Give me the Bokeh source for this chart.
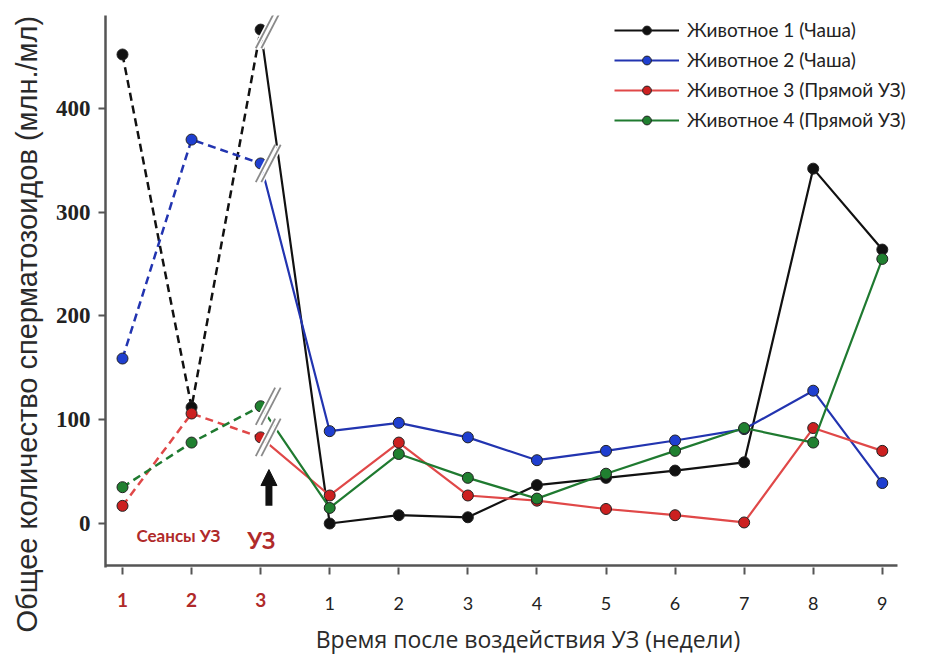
from bokeh.plotting import figure
from bokeh.models import (FixedTicker, Legend, LegendItem, Label, Arrow, NormalHead,
                          Range1d, ColumnDataSource, LinearAxis, Title)
from bokeh.embed import file_html
from bokeh.resources import INLINE

# ---------------- data ----------------
tick_labels = ["1", "2", "3", "1", "2", "3", "4", "5", "6", "7", "8", "9"]
n_sessions = 3
series_names = ["Животное 1 (Чаша)", "Животное 2 (Чаша)",
                "Животное 3 (Прямой УЗ)", "Животное 4 (Прямой УЗ)"]
animal1 = [452, 112, 476, 0, 8, 6, 37, 44, 51, 59, 342, 264]
animal2 = [159, 370, 347, 89, 97, 83, 61, 70, 80, 91, 128, 39]
animal3 = [17, 106, 83, 27, 78, 27, 22, 14, 8, 1, 92, 70]
animal4 = [35, 78, 113, 15, 67, 44, 24, 48, 70, 92, 78, 255]
y_ticks = [0, 100, 200, 300, 400]
y_title = "Общее количество сперматозоидов (млн./мл)"
x_title = "Время после воздействия УЗ  (недели)"

line_colors = ["#111111", "#2234b0", "#e04848", "#1f7a30"]
marker_colors = ["#111111", "#1f3fd0", "#cc2020", "#208030"]
series = [animal1, animal2, animal3, animal4]

positions = list(range(1, len(tick_labels) + 1))
RED = "#b02a2a"
AXIS_GRAY = "#555555"
X0, X1 = 0.754, 12.64
Y0, Y1 = -42.4, 489.6
X_AXIS_Y = -40.5
X_AXIS_END = 12.22

p = figure(width=926, height=660, output_backend="svg", toolbar_location=None,
           x_range=Range1d(X0, X1), y_range=Range1d(Y0, Y1),
           min_border_left=105, min_border_right=0, min_border_top=15,
           min_border_bottom=93, background_fill_color="white",
           border_fill_color="white", outline_line_color=None)
p.grid.visible = False

# bottom axis line (stops short of the right edge, as in the original)
p.line([X0, X_AXIS_END], [X_AXIS_Y, X_AXIS_Y], line_color=AXIS_GRAY, line_width=2.5)

legend_items = []
for vals, lc, mc, name in zip(series, line_colors, marker_colors, series_names):
    # dashed part: treatment sessions
    p.line(positions[:n_sessions], vals[:n_sessions], line_color=lc, line_width=2.5,
           line_dash="8 5")
    # solid part: weeks after treatment (from the last session onward)
    r_line = p.line(positions[n_sessions - 1:], vals[n_sessions - 1:], line_color=lc,
                    line_width=2.2)
    r_pts = p.scatter(positions, vals, size=11, fill_color=mc, line_color="#222222",
                      line_width=1)
    legend_items.append(LegendItem(label=name, renderers=[r_line, r_pts]))

# break marks just after the last session point
bx = [positions[n_sessions - 1] for _ in series]
by = [vals[n_sessions - 1] for vals in series]
for color, width in (("white", 5), ("#8a8a8a", 1.8)):
    for off in (0.07, 0.15):
        src = ColumnDataSource(dict(
            x0=[x + off - 0.14 for x in bx], y0=[y - 18 for y in by],
            x1=[x + off + 0.14 for x in bx], y1=[y + 18 for y in by]))
        p.segment("x0", "y0", "x1", "y1", source=src, line_color=color, line_width=width)

# ---------------- y axis ----------------
ax = p.yaxis[0]
ax.ticker = FixedTicker(ticks=y_ticks)
ax.minor_tick_line_color = None
ax.major_tick_in = 0
ax.major_tick_out = 7
ax.major_tick_line_width = 2
ax.major_tick_line_color = AXIS_GRAY
ax.axis_line_color = AXIS_GRAY
ax.axis_line_width = 2.5
ax.major_label_text_font = "Liberation Serif"
ax.major_label_text_font_style = "bold"
ax.major_label_text_font_size = "23px"
ax.major_label_text_color = "#222222"
ax.major_label_standoff = 8

p.add_layout(Title(text=y_title, align="left", offset=-65, vertical_align="top",
                   standoff=16, text_font="Liberation Sans", text_font_size="29px",
                   text_font_style="normal", text_color="#2a2a2a"), "left")

# ---------------- x axis (weeks, black labels) ----------------
xa = p.xaxis[0]
xa.ticker = FixedTicker(ticks=positions)
xa.major_label_overrides = {pos: ("" if i < n_sessions else lab)
                            for i, (pos, lab) in enumerate(zip(positions, tick_labels))}
xa.minor_tick_line_color = None
xa.major_tick_in = 0
xa.major_tick_out = 7
xa.major_tick_line_width = 2
xa.major_tick_line_color = AXIS_GRAY
xa.axis_line_color = None
xa.major_label_text_font = "Lato"
xa.major_label_text_font_size = "18px"
xa.major_label_text_color = "#222222"
xa.major_label_standoff = 22

# ---------------- second x axis (sessions, red labels) ----------------
xb = LinearAxis(ticker=FixedTicker(ticks=positions[:n_sessions]))
xb.major_label_overrides = {positions[i]: tick_labels[i] for i in range(n_sessions)}
xb.axis_line_color = None
xb.major_tick_line_color = None
xb.minor_tick_line_color = None
xb.major_tick_in = 0
xb.major_tick_out = 0
xb.major_label_text_font = "Lato"
xb.major_label_text_font_style = "bold"
xb.major_label_text_font_size = "19px"
xb.major_label_text_color = RED
xb.major_label_standoff = -20
xb.axis_label = "\u00a0" * 5 + x_title
xb.axis_label_text_font = "Open Sans"
xb.axis_label_text_font_style = "normal"
xb.axis_label_text_font_size = "23px"
xb.axis_label_text_color = "#2a2a2a"
xb.axis_label_standoff = 13
p.add_layout(xb, "below")

# ---------------- annotations ----------------
p.add_layout(Label(x=1.81, y=-11.5, text="Сеансы УЗ", text_align="center",
                   text_baseline="middle", text_font="Lato", text_font_style="bold",
                   text_font_size="17px", text_color=RED))
p.add_layout(Label(x=3.01, y=-16, text="УЗ", text_align="center",
                   text_baseline="middle", text_font="Lato", text_font_style="bold",
                   text_font_size="23px", text_color=RED))
p.add_layout(Arrow(x_start=3.12, y_start=17, x_end=3.12, y_end=52,
                   line_width=7, line_color="#111111",
                   end=NormalHead(size=16, fill_color="#111111", line_color="#111111")))

legend = Legend(items=legend_items, location=(509, 436), border_line_color=None,
                background_fill_alpha=0, label_text_font="Lato",
                label_text_font_size="19px", label_text_color="#222222",
                glyph_width=65, glyph_height=22, spacing=7, padding=5, margin=0,
                label_standoff=8)
p.add_layout(legend)

open("out.html", "w").write(file_html(p, INLINE))
